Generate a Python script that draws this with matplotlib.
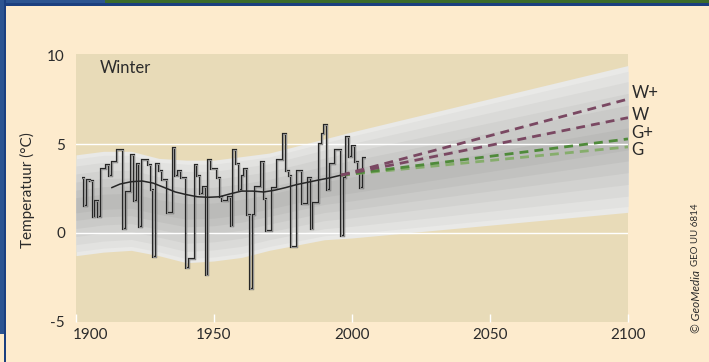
import matplotlib
matplotlib.use("Agg")
import matplotlib.pyplot as plt
import matplotlib.transforms as mtrans
from matplotlib.patches import Rectangle
import numpy as np

plt.rcParams["font.family"] = ["Lato", "DejaVu Sans"]

TEXT = "#2b2b2b"
FIG_BG = "#fdebcd"
AX_BG = "#e8dbb8"

# winter mean temperature (deg C), one value per year starting in OBS_START
OBS_START = 1902
obs_temp = [
    3.1, 1.5, 3.0, 2.9, 0.9, 1.8, 0.9, 3.6, 3.6, 3.8,    # 1902-1911
    3.2, 4.0, 4.0, 4.7, 4.7, 0.2, 2.3, 2.3, 4.4, 1.8,    # 1912-1921
    3.9, 0.3, 4.1, 4.1, 3.8, 2.4, -1.4, 3.9, 3.5, 3.0,   # 1922-1931
    3.0, 1.1, 1.1, 4.8, 3.2, 3.5, 3.1, 3.1, -2.0, -1.5,  # 1932-1941
    -1.5, 3.8, 3.2, 2.2, 2.6, -2.4, 4.1, 3.6, 3.6, 3.1,  # 1942-1951
    2.0, 1.8, 1.8, 2.0, 0.4, 4.7, 3.9, 2.4, 3.2, 3.6,    # 1952-1961
    1.0, -3.2, 1.0, 2.6, 2.6, 4.0, 1.9, 0.1, 0.1, 2.5,   # 1962-1971
    2.5, 4.1, 4.1, 5.6, 3.5, 3.2, -0.8, -0.8, 3.5, 3.5,  # 1972-1981
    1.6, 1.6, 3.1, 0.2, 1.7, 1.7, 5.0, 5.6, 6.1, 2.4,    # 1982-1991
    3.9, 3.9, 4.7, 4.7, -0.2, 3.1, 5.4, 4.3, 4.9, 4.0,   # 1992-2001
    3.4, 2.5, 4.2,                                       # 2002-2004
]

# smoothed trend of the observations
smooth_years = [1913, 1916, 1920, 1924, 1928, 1932, 1936, 1940, 1944, 1948,
                1952, 1956, 1960, 1964, 1968, 1972, 1976, 1980, 1984, 1988,
                1992, 1996]
smooth_temp = [2.55, 2.75, 2.88, 2.92, 2.8, 2.55, 2.3, 2.15, 2.03, 2.0,
               2.03, 2.2, 2.35, 2.35, 2.3, 2.4, 2.55, 2.72, 2.85, 2.98,
               3.1, 3.25]

# outer envelope of the grey uncertainty band
band_years = [1900, 1910, 1920, 1930, 1940, 1950, 1960, 1970, 1980, 1990, 2000, 2100]
band_upper = [4.4, 4.6, 4.6, 4.2, 4.1, 4.1, 4.3, 4.5, 4.9, 5.3, 5.7, 9.45]
band_lower = [-1.3, -1.1, -1.0, -1.3, -1.7, -1.6, -1.4, -1.0, -0.7, -0.4, -0.3, 1.15]

# KNMI scenarios: start of the projection and value in 2100
scen_names = ["G", "G+", "W", "W+"]
scen_years = [1996, 2100]
scen_start = 3.25
scen_end = [4.85, 5.3, 6.5, 7.55]
scen_label_y = [4.7, 5.64, 6.64, 7.87]
scen_colors = ["#86ad6c", "#4f8a3a", "#7a4862", "#7a4862"]

fig = plt.figure(figsize=(7.09, 3.62), dpi=100)
fig.patch.set_facecolor(FIG_BG)
W, H = 709, 362


def px_rect(x0, y0, w, h, color):
    # rectangle in image pixels, origin top-left
    fig.add_artist(Rectangle((x0 / W, 1 - (y0 + h) / H), w / W, h / H,
                             transform=fig.transFigure, color=color, lw=0, zorder=5))


# frame strips
px_rect(0, 0, 3.5, 334, "#2c5491")
px_rect(0, 0, 105, 3, "#2c5491")
px_rect(105, 0, 604, 3, "#3b6b2b")
px_rect(3.5, 3, 705.5, 2.5, "#1b3f7f")
px_rect(3.5, 0, 2.5, 362, "#1b3f7f")

ax = fig.add_axes([76 / W, 1 - 322 / H, 552 / W, 268 / H])
ax.set_facecolor(AX_BG)
for s in ax.spines.values():
    s.set_visible(False)

# grey band, light outside to dark inside
up = np.array(band_upper)
lo = np.array(band_lower)
mid, half = (up + lo) / 2, (up - lo) / 2
fracs = [1.0, 0.92, 0.78, 0.62, 0.46, 0.3, 0.15]
greys = ["#e9e9e7", "#e2e2e0", "#dadad8", "#d2d2d0", "#cacac8", "#c2c2c0", "#bbbbb9"]
for f, c in zip(fracs, greys):
    ax.fill_between(band_years, mid - f * half, mid + f * half, color=c, lw=0, zorder=1)

for yv in (0, 5):
    ax.axhline(yv, color="white", lw=1.0, zorder=2)

edges = np.arange(OBS_START, OBS_START + len(obs_temp) + 1)
ax.stairs(obs_temp, edges, baseline=None, color="#262626", lw=1.6, zorder=3)
ax.stairs(obs_temp, edges, baseline=None, color="#c4c4c2", lw=0.5, zorder=3)

ax.plot(smooth_years, smooth_temp, color="#262626", lw=1.1, zorder=4)

for name, end, ly, c in zip(scen_names, scen_end, scen_label_y, scen_colors):
    ax.plot(scen_years, [scen_start, end], color=c, lw=2.0,
            linestyle=(0, (3.2, 2.2)), zorder=4)
    ax.text(2101.2, ly, name, ha="left", va="center", fontsize=12,
            color=TEXT, clip_on=False)

ax.text(24 / 552, 1 - 13.7 / 268, "Winter", transform=ax.transAxes,
        ha="left", va="center", fontsize=12, color=TEXT)

ax.set_xlim(1900, 2100)
ax.set_ylim(-5.05, 10.1)
ax.set_xticks([1900, 1950, 2000, 2050, 2100])
ax.set_yticks([-5, 0, 5, 10], ["-5", "0", "5", "10"])
ax.tick_params(axis="x", direction="in", length=6, width=1, color="white",
               pad=4, labelsize=11, labelcolor=TEXT)
ax.tick_params(axis="y", length=0, pad=8, labelsize=11, labelcolor=TEXT)
first = ax.get_xticklabels()[0]
first.set_transform(first.get_transform()
                    + mtrans.ScaledTranslation(15 / 100, 0, fig.dpi_scale_trans))

fig.text(27 / W, 1 - 190 / H, "Temperatuur (°C)", rotation=90,
         ha="center", va="center", fontsize=11, color=TEXT)

t1 = fig.text(696 / W, 1 - 333 / H, "© GeoMedia", rotation=90, ha="center",
              va="bottom", fontsize=8.5, style="italic", color=TEXT)
fig.canvas.draw()
bb = t1.get_window_extent()
fig.text(696 / W, (bb.y1 + 4) / fig.bbox.height, "GEO UU 6814", rotation=90,
         ha="center", va="bottom", fontsize=7, color=TEXT)

fig.savefig("out.png", dpi=100, facecolor=fig.get_facecolor())
